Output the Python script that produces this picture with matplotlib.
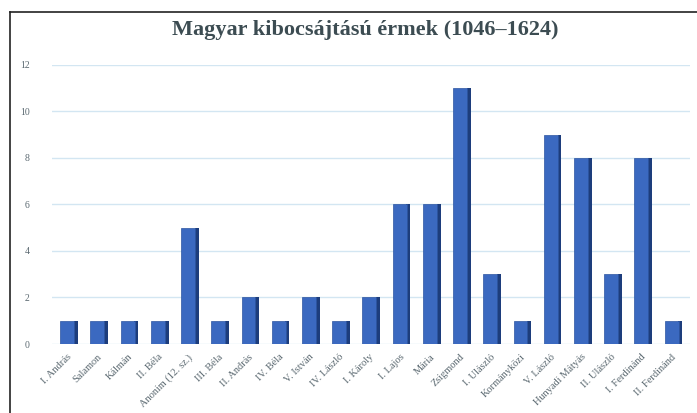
import matplotlib

matplotlib.use("Agg")
import matplotlib.pyplot as plt
from matplotlib.lines import Line2D
import numpy as np

RULERS = [
    "I. András", "Salamon", "Kálmán", "II. Béla", "Anonim (12. sz.)",
    "III. Béla", "II. András", "IV. Béla", "V. István", "IV. László",
    "I. Károly", "I. Lajos", "Mária", "Zsigmond", "I. Ulászló",
    "Kormányközi", "V. László", "Hunyadi Mátyás", "II. Ulászló",
    "I. Ferdinánd", "II. Ferdinánd",
]
COINS = [1, 1, 1, 1, 5, 1, 2, 1, 2, 1, 2, 6, 6, 11, 3, 1, 9, 8, 3, 8, 1]
YTICKS = [0, 2, 4, 6, 8, 10, 12]

FRONT = "#3b69c0"
SIDE = "#1d3d7c"
GRID = "#d3e6f2"
TEXT = "#5a6870"

plt.rcParams["font.family"] = ["Liberation Serif", "DejaVu Serif"]

fig = plt.figure(figsize=(6.97, 4.13), dpi=100)
ax = fig.add_axes([0.0746, 0.167, 0.915, 0.676])

x = np.arange(len(COINS))
# darker side face for a pseudo-3D look
ax.bar(x + 0.29, COINS, width=0.13, color=SIDE, zorder=2)
ax.bar(x, COINS, width=0.46, color=FRONT, edgecolor="#2c55a0", linewidth=0.5, zorder=3)

ax.set_xlim(-0.5, 20.6)
ax.set_ylim(0, 12)
ax.set_yticks(YTICKS)
ax.set_yticklabels([str(v) for v in YTICKS], fontsize=7, color=TEXT)
ax.tick_params(axis="y", length=0, pad=16)
ax.grid(True, axis="y", color=GRID, linewidth=1.0, zorder=0)
for s in ax.spines.values():
    s.set_visible(False)

ax.set_xticks(x)
ax.set_xticklabels(RULERS, fontsize=7.5, color=TEXT, rotation=45,
                   ha="right", va="top", rotation_mode="anchor")
ax.tick_params(axis="x", length=0, pad=6)

fig.suptitle("Magyar kibocsájtású érmek (1046–1624)", x=0.524, y=0.952,
             fontsize=16, fontweight="bold", color="#3c4c52")

fig.add_artist(Line2D([10 / 697, 10 / 697], [0, 1 - 12 / 413], color="#222222", lw=1.2))
fig.add_artist(Line2D([10 / 697, 1], [1 - 12 / 413, 1 - 12 / 413], color="#222222", lw=1.2))

fig.savefig("out.png", dpi=100)
